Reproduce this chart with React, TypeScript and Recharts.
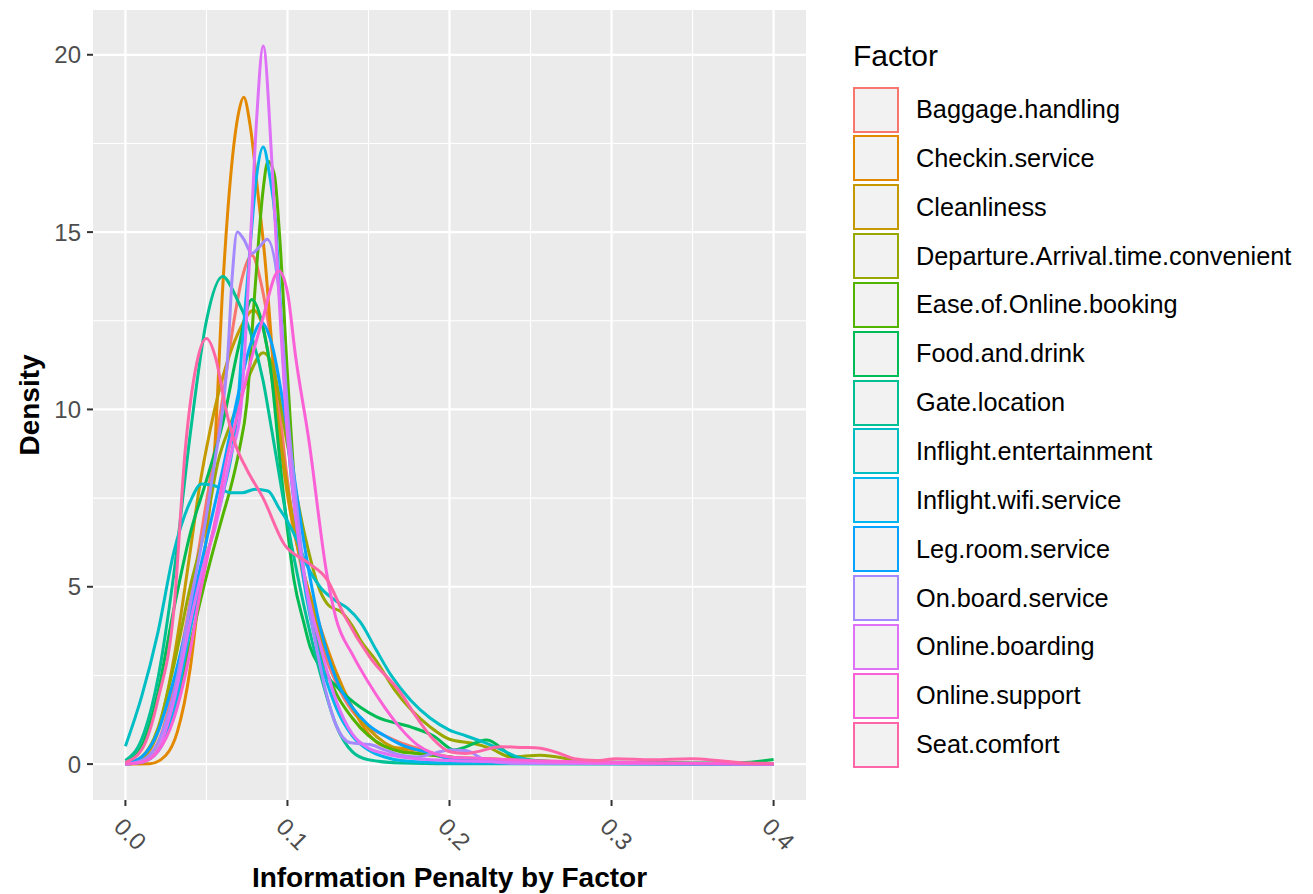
import { LineChart, Line, XAxis, YAxis, CartesianGrid } from 'recharts'

const FACTORS = [
  'Baggage.handling',
  'Checkin.service',
  'Cleanliness',
  'Departure.Arrival.time.convenient',
  'Ease.of.Online.booking',
  'Food.and.drink',
  'Gate.location',
  'Inflight.entertainment',
  'Inflight.wifi.service',
  'Leg.room.service',
  'On.board.service',
  'Online.boarding',
  'Online.support',
  'Seat.comfort',
]

// ggplot2 hue_pal()(14)
const COLORS = [
  '#F8766D', '#E38900', '#C49A00', '#99A800', '#53B400', '#00BC56', '#00C094',
  '#00BFC4', '#00B6EB', '#06A4FF', '#A58AFF', '#DF70F8', '#FB61D7', '#FF66A8',
]

const X_TICKS = [0, 0.1, 0.2, 0.3, 0.4]
const Y_TICKS = [0, 5, 10, 15, 20]
const X_MINOR = [0.05, 0.15, 0.25, 0.35]
const Y_MINOR = [2.5, 7.5, 12.5, 17.5]

// [penalty, density] pairs
const baggageHandling: [number, number][] = [
  [0, 0], [0.01, 0.1], [0.02, 0.6], [0.03, 2.2], [0.04, 4.6], [0.05, 7.4], [0.06, 10.3], [0.067, 12.5],
  [0.072, 13.7], [0.078, 14.35], [0.084, 13.5], [0.089, 12.2], [0.095, 10.0], [0.1, 8.0], [0.11, 5.2],
  [0.12, 3.5], [0.13, 2.3], [0.14, 1.5], [0.15, 1.05], [0.16, 0.8], [0.17, 0.6], [0.18, 0.45], [0.19, 0.3],
  [0.2, 0.2], [0.225, 0.1], [0.25, 0.06], [0.3, 0.03], [0.35, 0.01], [0.4, 0],
]
const checkinService: [number, number][] = [
  [0, 0], [0.015, 0.01], [0.025, 0.25], [0.032, 0.9], [0.04, 2.7], [0.045, 4.6], [0.05, 6.4], [0.055, 8.8],
  [0.06, 13.4], [0.065, 16.6], [0.07, 18.4], [0.073, 18.8], [0.077, 18.0], [0.082, 16.0], [0.086, 14.3],
  [0.09, 12.0], [0.093, 10.2], [0.1, 7.6], [0.11, 5.4], [0.12, 3.9], [0.13, 2.6], [0.14, 1.6], [0.15, 0.85],
  [0.16, 0.5], [0.17, 0.45], [0.18, 0.4], [0.19, 0.3], [0.2, 0.15], [0.225, 0.08], [0.25, 0.05], [0.3, 0.02],
  [0.4, 0],
]
const cleanliness: [number, number][] = [
  [0, 0], [0.01, 0.15], [0.02, 0.9], [0.03, 3.0], [0.04, 6.0], [0.046, 7.9], [0.05, 8.9], [0.06, 10.9],
  [0.07, 12.2], [0.079, 12.8], [0.085, 12.3], [0.09, 11.0], [0.095, 9.4], [0.1, 7.8], [0.11, 5.4], [0.12, 3.7],
  [0.13, 2.5], [0.14, 1.6], [0.15, 1.0], [0.16, 0.6], [0.17, 0.4], [0.18, 0.3], [0.19, 0.25], [0.2, 0.2],
  [0.225, 0.15], [0.25, 0.1], [0.3, 0.04], [0.4, 0],
]
const departureArrival: [number, number][] = [
  [0, 0], [0.01, 0.2], [0.02, 1.0], [0.03, 2.8], [0.04, 5.0], [0.05, 6.8], [0.057, 8.5], [0.065, 9.6],
  [0.075, 10.8], [0.085, 11.6], [0.091, 11.2], [0.1, 9.0], [0.11, 6.6], [0.12, 4.9], [0.126, 4.45],
  [0.133, 4.3], [0.14, 3.9], [0.145, 3.5], [0.155, 2.9], [0.166, 2.1], [0.177, 1.5], [0.188, 1.05],
  [0.2, 0.7], [0.215, 0.58], [0.225, 0.45], [0.238, 0.2], [0.256, 0.25], [0.28, 0.1], [0.3, 0.05],
  [0.35, 0.02], [0.4, 0],
]
const easeOfOnlineBooking: [number, number][] = [
  [0, 0], [0.01, 0.05], [0.02, 0.4], [0.03, 1.5], [0.04, 3.4], [0.05, 5.3], [0.06, 7.0], [0.065, 7.8],
  [0.07, 8.8], [0.075, 10.2], [0.08, 13.4], [0.085, 16.2], [0.088, 17.0], [0.092, 16.6], [0.095, 15.0],
  [0.1, 11.0], [0.105, 7.5], [0.11, 5.4], [0.12, 3.2], [0.13, 2.0], [0.14, 1.3], [0.15, 0.8], [0.16, 0.5],
  [0.17, 0.35], [0.18, 0.3], [0.2, 0.2], [0.225, 0.1], [0.25, 0.05], [0.3, 0.02], [0.4, 0],
]
const foodAndDrink: [number, number][] = [
  [0, 0.05], [0.01, 0.5], [0.02, 2.0], [0.03, 4.4], [0.04, 6.5], [0.05, 8.0], [0.06, 9.6], [0.07, 11.8],
  [0.078, 13.1], [0.085, 12.3], [0.09, 11.0], [0.095, 8.7], [0.1, 6.6], [0.104, 5.2], [0.11, 4.0],
  [0.114, 3.3], [0.12, 2.74], [0.13, 2.2], [0.145, 1.6], [0.155, 1.33], [0.176, 1.05], [0.19, 0.8],
  [0.203, 0.4], [0.223, 0.68], [0.24, 0.2], [0.26, 0.08], [0.3, 0.05], [0.35, 0.03], [0.38, 0.04], [0.4, 0.13],
]
const gateLocation: [number, number][] = [
  [0, 0.1], [0.01, 0.7], [0.02, 2.4], [0.03, 5.4], [0.04, 9.3], [0.05, 12.5], [0.06, 13.75], [0.068, 13.2],
  [0.077, 12.2], [0.085, 10.8], [0.09, 9.5], [0.1, 6.8], [0.11, 4.5], [0.12, 2.6], [0.13, 1.1], [0.14, 0.35],
  [0.15, 0.12], [0.17, 0.03], [0.2, 0.01], [0.4, 0],
]
const inflightEntertainment: [number, number][] = [
  [0, 0.5], [0.01, 1.9], [0.02, 3.7], [0.03, 6.0], [0.04, 7.4], [0.047, 7.9], [0.055, 7.85], [0.065, 7.65],
  [0.072, 7.65], [0.08, 7.75], [0.088, 7.7], [0.095, 7.2], [0.1, 6.85], [0.106, 6.3], [0.112, 5.6],
  [0.12, 5.0], [0.13, 4.6], [0.137, 4.4], [0.145, 4.0], [0.155, 3.2], [0.164, 2.5], [0.176, 1.8],
  [0.188, 1.3], [0.2, 0.96], [0.21, 0.8], [0.221, 0.62], [0.23, 0.45], [0.242, 0.2], [0.26, 0.05],
  [0.3, 0.02], [0.4, 0],
]
const inflightWifi: [number, number][] = [
  [0, 0], [0.01, 0.05], [0.02, 0.35], [0.03, 1.5], [0.04, 3.8], [0.05, 5.8], [0.06, 7.6], [0.065, 8.6],
  [0.069, 9.9], [0.072, 11.8], [0.077, 14.6], [0.081, 16.6], [0.085, 17.4], [0.089, 16.6], [0.0926, 15.3],
  [0.096, 12.6], [0.1, 9.3], [0.105, 7.0], [0.11, 5.2], [0.12, 3.0], [0.13, 1.6], [0.14, 0.8], [0.15, 0.4],
  [0.16, 0.2], [0.17, 0.1], [0.2, 0.03], [0.4, 0],
]
const legRoomService: [number, number][] = [
  [0, 0.02], [0.01, 0.2], [0.02, 0.9], [0.03, 2.4], [0.04, 4.3], [0.05, 6.3], [0.06, 8.3], [0.07, 10.5],
  [0.077, 11.8], [0.084, 12.45], [0.09, 11.9], [0.1, 9.4], [0.11, 6.3], [0.12, 3.9], [0.13, 2.4], [0.14, 1.6],
  [0.15, 1.1], [0.16, 0.8], [0.17, 0.55], [0.18, 0.4], [0.19, 0.3], [0.2, 0.15], [0.225, 0.1], [0.25, 0.05],
  [0.3, 0.02], [0.4, 0],
]
const onBoardService: [number, number][] = [
  [0, 0], [0.01, 0.1], [0.02, 0.6], [0.03, 2.0], [0.04, 4.5], [0.05, 7.0], [0.055, 8.5], [0.06, 10.0],
  [0.063, 11.4], [0.066, 13.8], [0.069, 15.0], [0.073, 14.8], [0.078, 14.4], [0.083, 14.6], [0.0875, 14.8],
  [0.0946, 13.4], [0.098, 11.4], [0.1, 10.0], [0.105, 7.6], [0.11, 5.5], [0.12, 2.8], [0.13, 1.1],
  [0.139, 0.6], [0.151, 0.55], [0.16, 0.4], [0.17, 0.25], [0.18, 0.2], [0.19, 0.3], [0.2, 0.4], [0.21, 0.38],
  [0.223, 0.1], [0.24, 0.02], [0.4, 0],
]
const onlineBoarding: [number, number][] = [
  [0, 0], [0.01, 0.05], [0.02, 0.4], [0.03, 1.8], [0.04, 4.0], [0.05, 5.9], [0.055, 6.6], [0.06, 7.6],
  [0.065, 8.7], [0.071, 9.9], [0.077, 14.6], [0.081, 18.2], [0.085, 20.25], [0.0905, 16.9], [0.095, 13.0],
  [0.099, 9.9], [0.105, 7.0], [0.11, 5.4], [0.12, 3.4], [0.13, 1.8], [0.14, 0.85], [0.15, 0.45], [0.16, 0.3],
  [0.17, 0.2], [0.2, 0.1], [0.25, 0.05], [0.3, 0.02], [0.4, 0],
]
const onlineSupport: [number, number][] = [
  [0, 0], [0.01, 0.05], [0.02, 0.35], [0.03, 1.3], [0.04, 3.2], [0.046, 4.8], [0.05, 5.7], [0.056, 7.0],
  [0.063, 8.7], [0.07, 10.0], [0.077, 11.3], [0.0844, 12.5], [0.0947, 13.9], [0.1, 13.3], [0.105, 11.5],
  [0.113, 9.2], [0.1245, 5.3], [0.13, 4.1], [0.14, 3.1], [0.15, 2.3], [0.16, 1.6], [0.17, 1.0], [0.18, 0.55],
  [0.19, 0.3], [0.2, 0.2], [0.225, 0.15], [0.25, 0.1], [0.3, 0.05], [0.4, 0],
]
const seatComfort: [number, number][] = [
  [0, 0.05], [0.01, 0.4], [0.02, 1.8], [0.03, 4.4], [0.037, 8.9], [0.044, 11.3], [0.05, 12.0], [0.056, 11.4],
  [0.062, 10.0], [0.068, 9.0], [0.075, 8.3], [0.085, 7.5], [0.098, 6.2], [0.112, 5.7], [0.1245, 5.2],
  [0.135, 4.2], [0.151, 3.0], [0.17, 2.0], [0.18, 1.3], [0.19, 0.7], [0.2, 0.35], [0.21, 0.3], [0.22, 0.38],
  [0.231, 0.49], [0.245, 0.47], [0.256, 0.45], [0.268, 0.3], [0.277, 0.15], [0.29, 0.1], [0.303, 0.15],
  [0.325, 0.12], [0.349, 0.15], [0.37, 0.08], [0.385, 0.03], [0.4, 0.02],
]

const SERIES = [
  baggageHandling, checkinService, cleanliness, departureArrival, easeOfOnlineBooking, foodAndDrink,
  gateLocation, inflightEntertainment, inflightWifi, legRoomService, onBoardService, onlineBoarding,
  onlineSupport, seatComfort,
]

const FONT = '"Liberation Sans", Arial, Helvetica, sans-serif'

function XTick({ x, y, payload }: { x?: number; y?: number; payload?: { value: number } }) {
  return (
    <g transform={`translate(${x},${y})`}>
      <text
        transform="translate(5,26) rotate(45)"
        textAnchor="middle"
        dominantBaseline="central"
        fill="#4D4D4D"
        fontSize={24}
        fontFamily={FONT}
      >
        {payload?.value.toFixed(1)}
      </text>
    </g>
  )
}

export default function App() {
  return (
    <div style={{ position: 'absolute', left: 0, top: 0, width: 1313, height: 894, background: '#fff', fontFamily: FONT }}>
      <LineChart width={1313} height={894} margin={{ top: 10, right: 507, bottom: 0, left: 0 }}>
        <CartesianGrid
          fill="#EBEBEB"
          stroke="#fff"
          strokeWidth={1.1}
          horizontalValues={Y_MINOR}
          verticalValues={X_MINOR}
        />
        <CartesianGrid stroke="#fff" strokeWidth={2.2} horizontalValues={Y_TICKS} verticalValues={X_TICKS} />
        <XAxis
          dataKey="x"
          type="number"
          domain={[-0.02, 0.42]}
          ticks={X_TICKS}
          allowDataOverflow
          height={94}
          axisLine={false}
          tickSize={6}
          tickLine={{ stroke: '#333333', strokeWidth: 2 }}
          tick={<XTick />}
        />
        <YAxis
          type="number"
          domain={[-1.0125, 21.2625]}
          ticks={Y_TICKS}
          allowDataOverflow
          width={93}
          axisLine={false}
          tickSize={6}
          tickMargin={6}
          tickLine={{ stroke: '#333333', strokeWidth: 2 }}
          tick={{ fill: '#4D4D4D', fontSize: 24, fontFamily: FONT }}
        />
        {FACTORS.map((name, i) => (
          <Line
            key={name}
            name={name}
            data={SERIES[i].map(([x, y]) => ({ x, y }))}
            dataKey="y"
            type="monotone"
            stroke={COLORS[i]}
            strokeWidth={3}
            dot={false}
            activeDot={false}
            isAnimationActive={false}
          />
        ))}
      </LineChart>

      {/* axis titles */}
      <div
        style={{
          position: 'absolute', left: 449.5, top: 864, transform: 'translateX(-50%)',
          fontSize: 28, lineHeight: '28px', fontWeight: 700, color: '#000', whiteSpace: 'nowrap',
        }}
      >
        Information Penalty by Factor
      </div>
      <div
        style={{
          position: 'absolute', left: 30, top: 405, transform: 'translate(-50%, -50%) rotate(-90deg)',
          fontSize: 28, lineHeight: '28px', fontWeight: 700, color: '#000', whiteSpace: 'nowrap',
        }}
      >
        Density
      </div>

      {/* legend */}
      <div style={{ position: 'absolute', left: 853, top: 41, fontSize: 30, lineHeight: '30px', color: '#000' }}>
        Factor
      </div>
      {FACTORS.map((name, i) => (
        <div
          key={name}
          style={{
            position: 'absolute', left: 853, top: 86 + i * 48.85, height: 47,
            display: 'flex', alignItems: 'center', whiteSpace: 'nowrap',
          }}
        >
          <div
            style={{
              width: 42, height: 42, background: '#F2F2F2', border: `2.5px solid ${COLORS[i]}`,
            }}
          />
          <span style={{ marginLeft: 17, fontSize: 25.3, color: '#000' }}>{name}</span>
        </div>
      ))}
    </div>
  )
}
